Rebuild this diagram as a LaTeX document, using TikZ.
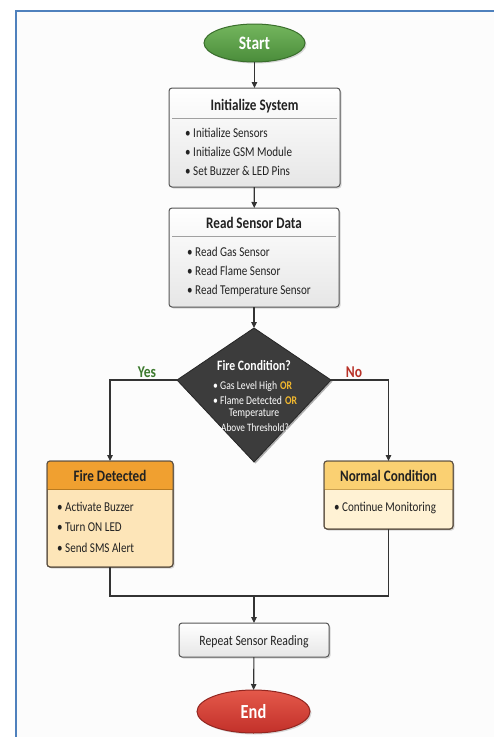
\documentclass[tikz,border=0pt]{standalone}
\usepackage{fontspec}
\setmainfont{Carlito}[FakeStretch=0.82]
\usetikzlibrary{arrows.meta,shapes.geometric,shadows}
\definecolor{frameblue}{HTML}{4F81BD}
\definecolor{linec}{HTML}{333333}
\definecolor{boxborder}{HTML}{555555}
\definecolor{boxbot}{HTML}{E6E6E6}
\definecolor{sepc}{HTML}{A0A0A0}
\definecolor{textc}{HTML}{222222}
\definecolor{gtop}{HTML}{74B65E}
\definecolor{gbot}{HTML}{4A8C3A}
\definecolor{gborder}{HTML}{3A6E2C}
\definecolor{rtop}{HTML}{E4594A}
\definecolor{rbot}{HTML}{C2302A}
\definecolor{rborder}{HTML}{922620}
\definecolor{diafill}{HTML}{3C3C3C}
\definecolor{orc}{HTML}{F2B82E}
\definecolor{yesc}{HTML}{3D7A2E}
\definecolor{noc}{HTML}{B83228}
\definecolor{firehead}{HTML}{F0A030}
\definecolor{firebody}{HTML}{FDE5B8}
\definecolor{firesep}{HTML}{B87A20}
\definecolor{normhead}{HTML}{FAD072}
\definecolor{normbody}{HTML}{FFF2D4}
\definecolor{normsep}{HTML}{C9A050}
\definecolor{boxdark}{HTML}{5A4E40}
\newcommand\myfs[1]{\fontsize{#1}{#1}\selectfont}
\begin{document}
\begin{tikzpicture}[x=1pt,y=-1pt,
  conn/.style={draw=linec, line width=1.1pt},
  arr/.style={conn, -{Triangle[length=6pt,width=5.5pt]}},
  graybox/.style={draw=boxborder, line width=1pt, rounded corners=3pt, top color=white, bottom color=boxbot,
    drop shadow={shadow xshift=1.5pt,shadow yshift=-1.5pt,opacity=0.3}, inner sep=0, outer sep=0},
  colbox/.style={draw=boxdark, line width=1pt, rounded corners=3pt, inner sep=0, outer sep=0,
    drop shadow={shadow xshift=1.5pt,shadow yshift=-1.5pt,opacity=0.3}},
  oval/.style={ellipse, line width=1pt, inner sep=0, outer sep=0,
    drop shadow={shadow xshift=1.5pt,shadow yshift=-1.5pt,opacity=0.3}},
  title/.style={inner sep=0, anchor=base, text=textc, font=\myfs{16}\bfseries},
  item/.style={inner sep=0, anchor=base west, text=textc, font=\myfs{13.5}},
  sepline/.style={draw=sepc, line width=0.8pt}
]
\useasboundingbox (0,0) rectangle (494,737);
\fill[white] (0,0) rectangle (494,737);
\fill[black!1] (16,11) rectangle (494,737);
\draw[frameblue, line width=2pt] (494,11) -- (16,11) -- (16,737);

% Start
\node[oval, draw=gborder, top color=gtop, bottom color=gbot, minimum width=101, minimum height=38] (start) at (254.5,43) {};
\node[inner sep=0, anchor=base, text=white, font=\myfs{19}\bfseries] (starttxt) at (254.5,49) {Start};

% Initialize System
\node[graybox, minimum width=171, minimum height=99] (init) at (254.5,137.5) {};
\node[title] (inittitle) at (254.5,110.5) {Initialize System};
\draw[sepline] (172,118) -- (337,118);
\node[item] (i1) at (185,137.5) {• Initialize Sensors};
\node[item] (i2) at (185,156.5) {• Initialize GSM Module};
\node[item] (i3) at (185,175.5) {• Set Buzzer \& LED Pins};

% Read Sensor Data
\node[graybox, minimum width=170, minimum height=99] (read) at (254,257.5) {};
\node[title] (readtitle) at (254,228.5) {Read Sensor Data};
\draw[sepline] (172,236) -- (336,236);
\node[item] (r1) at (187,256.5) {• Read Gas Sensor};
\node[item] (r2) at (187,275.5) {• Read Flame Sensor};
\node[item] (r3) at (187,294.5) {• Read Temperature Sensor};

% Decision diamond
\coordinate (dtop) at (254,328);
\coordinate (dleft) at (177,380);
\coordinate (dright) at (331,380);
\coordinate (dbot) at (254,462);
\fill[black, opacity=0.3] ([shift={(1.5,1.5)}]dtop) -- ([shift={(1.5,1.5)}]dright) -- ([shift={(1.5,1.5)}]dbot) -- ([shift={(1.5,1.5)}]dleft) -- cycle;
\filldraw[fill=diafill, draw=black!85, line width=0.8pt] (dtop) -- (dright) -- (dbot) -- (dleft) -- cycle;
\node[inner sep=0, anchor=base, text=white, font=\myfs{14.3}\bfseries] (dtitle) at (254,370.5) {Fire Condition?};
\node[inner sep=0, anchor=base west, text=white, font=\myfs{11.8}] (d1) at (213,389) {• Gas Level High\hspace{3pt}\textcolor{orc}{\textbf{OR}}};
\node[inner sep=0, anchor=base west, text=white, font=\myfs{11.8}] (d2) at (213,404) {• Flame Detected\hspace{3pt}\textcolor{orc}{\textbf{OR}}};
\node[inner sep=0, anchor=base, text=white, font=\myfs{11.8}] (d3) at (254,416.5) {Temperature};
\node[inner sep=0, anchor=base, text=white, font=\myfs{11.3}] (d4) at (255,431) {Above Threshold?};

\node[inner sep=0, anchor=base, text=yesc, font=\myfs{16.5}\bfseries] (yes) at (147,377) {Yes};
\node[inner sep=0, anchor=base, text=noc, font=\myfs{16.5}\bfseries] (no) at (354,377) {No};

% Fire Detected
\node[colbox, fill=firebody, minimum width=126, minimum height=106] (fire) at (110,514) {};
\begin{scope}
  \clip[rounded corners=3pt] (fire.north west) rectangle (fire.south east);
  \fill[firehead] (fire.north west) rectangle (173,489);
\end{scope}
\draw[firesep, line width=0.8pt] (47,489) -- (173,489);
\draw[boxdark, line width=1pt, rounded corners=3pt] (fire.north west) rectangle (fire.south east);
\node[title] (firetitle) at (110,481.5) {Fire Detected};
\node[item] (f1) at (57,511) {• Activate Buzzer};
\node[item] (f2) at (57,531.5) {• Turn ON LED};
\node[item] (f3) at (57,552) {• Send SMS Alert};

% Normal Condition
\node[colbox, fill=normbody, minimum width=129, minimum height=68] (normal) at (388.5,495) {};
\begin{scope}
  \clip[rounded corners=3pt] (normal.north west) rectangle (normal.south east);
  \fill[normhead] (normal.north west) rectangle (453,489);
\end{scope}
\draw[normsep, line width=0.8pt] (324,489) -- (453,489);
\draw[boxdark, line width=1pt, rounded corners=3pt] (normal.north west) rectangle (normal.south east);
\node[title] (normtitle) at (388.5,481.5) {Normal Condition};
\node[item] (n1) at (334,511) {• Continue Monitoring};

% Repeat
\node[graybox, minimum width=150, minimum height=34] (repeat) at (254,640) {};
\node[inner sep=0, anchor=base, text=textc, font=\myfs{14.3}] (reptxt) at (254,645) {Repeat Sensor Reading};

% End
\node[oval, draw=rborder, top color=rtop, bottom color=rbot, minimum width=113, minimum height=43] (end) at (253.5,711.5) {};
\node[inner sep=0, anchor=base, text=white, font=\myfs{20}\bfseries] (endtxt) at (253.5,718.5) {End};

% Connectors
\coordinate (merge) at (254,596);
\draw[arr] (start) -- (init);
\draw[arr] (init) -- (read);
\draw[arr] (read.south) -- (dtop);
\draw[arr] (dleft) -| (fire.north);
\draw[arr] (dright) -| (normal.north);
\draw[conn] (fire.south) |- (merge);
\draw[conn] (normal.south) |- (merge);
\draw[arr] (merge) -- (repeat.north);
\draw[arr] (repeat) -- (end);
\end{tikzpicture}
\end{document}
